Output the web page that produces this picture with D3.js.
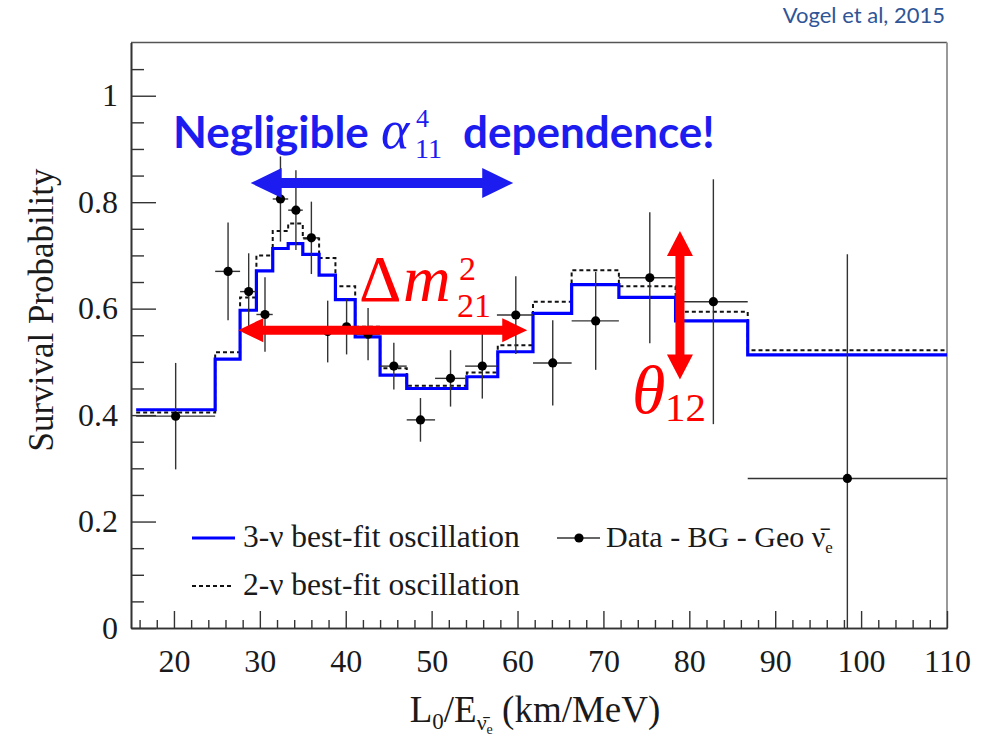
<!DOCTYPE html>
<html>
<head>
<meta charset="utf-8">
<script src="https://cdn.jsdelivr.net/npm/d3@7"></script>
<style>
  html, body { margin: 0; padding: 0; background: #fff; }
  svg { display: block; }
</style>
</head>
<body>
<svg id="chart" width="1000" height="742"></svg>
<script>
// Bin edges of the predicted spectra, L0/E (km/MeV)
const binEdges = [15.6, 24.8, 27.7, 29.6, 31.5, 33.3, 35.0, 36.9, 38.8, 41.1, 44.0,
                  47.1, 54.1, 57.7, 61.8, 66.3, 71.8, 78.4, 86.8, 110];
// 3-flavour best-fit survival probability per bin
const threeNu = [0.410, 0.505, 0.597, 0.671, 0.713, 0.722, 0.702, 0.663, 0.617, 0.547,
                 0.475, 0.450, 0.472, 0.519, 0.591, 0.645, 0.621, 0.577, 0.513];
// 2-flavour best-fit survival probability per bin
const twoNu = [0.405, 0.518, 0.621, 0.700, 0.746, 0.760, 0.732, 0.695, 0.642, 0.566,
               0.488, 0.455, 0.480, 0.531, 0.613, 0.672, 0.642, 0.594, 0.522];

// Data - BG - Geo antineutrinos
const dataX   = [20.2, 26.3, 28.7, 30.6, 32.4, 34.2, 36.0, 37.9, 40.1, 42.6,
                 45.6, 48.7, 52.2, 55.9, 59.8, 64.1, 69.1, 75.4, 82.8, 98.4];
const dataY   = [0.398, 0.670, 0.632, 0.589, 0.806, 0.785, 0.733, 0.557, 0.566, 0.552,
                 0.492, 0.391, 0.469, 0.492, 0.588, 0.498, 0.577, 0.658, 0.613, 0.281];
const dataErr = [0.100, 0.092, 0.072, 0.070, 0.080, 0.075, 0.068, 0.058, 0.052, 0.049,
                 0.044, 0.041, 0.053, 0.061, 0.073, 0.080, 0.092, 0.123, 0.230, 0.421];
const dataLo  = [15.6, 24.8, 27.7, 29.6, 31.5, 33.3, 35.0, 36.9, 38.8, 41.1,
                 44.0, 47.1, 50.4, 53.9, 57.6, 61.8, 66.3, 71.8, 78.4, 86.8];
const dataHi  = [24.8, 27.7, 29.6, 31.5, 33.3, 35.0, 36.9, 38.8, 41.1, 44.0,
                 47.1, 50.4, 53.9, 57.6, 61.8, 66.3, 71.8, 78.4, 86.8, 110];

// Axis ticks
const xTickValues = [20, 30, 40, 50, 60, 70, 80, 90, 100, 110];
const xTickLabels = ["20", "30", "40", "50", "60", "70", "80", "90", "100", "110"];
const yTickValues = [0, 0.2, 0.4, 0.6, 0.8, 1];
const yTickLabels = ["0", "0.2", "0.4", "0.6", "0.8", "1"];

const svg = d3.select("#chart");
const serif = "'Liberation Serif', 'Times New Roman', serif";
const sans = "Lato, 'Open Sans', sans-serif";
const blue = "#1c1cf0";
const red = "#ff0000";

const x = d3.scaleLinear().domain([15, 110]).range([131, 947]);
const y = d3.scaleLinear().domain([0, 1.1]).range([628, 42.5]);

// Minor tick positions
const xMinor = d3.range(16, 110, 2).filter(v => v % 10 !== 0);
const yMinor = d3.range(1, 22).map(i => i * 0.05).filter(v => Math.abs(v * 5 - Math.round(v * 5)) > 1e-6);

// Frame
svg.append("line").attr("x1", 131).attr("x2", 947).attr("y1", 42.5).attr("y2", 42.5)
  .attr("stroke", "#555").attr("stroke-width", 1.5);
svg.append("line").attr("x1", 947).attr("x2", 947).attr("y1", 42.5).attr("y2", 628)
  .attr("stroke", "#999").attr("stroke-width", 2);

// Histograms
const step = d3.line().x(d => x(d[0])).y(d => y(d[1])).curve(d3.curveStepAfter);
function histPoints(vals) {
  const pts = vals.map((v, i) => [binEdges[i], v]);
  pts.push([binEdges[binEdges.length - 1], vals[vals.length - 1]]);
  return pts;
}
svg.append("path").attr("d", step(histPoints(twoNu)))
  .attr("fill", "none").attr("stroke", "#111").attr("stroke-width", 2)
  .attr("stroke-dasharray", "4,3");
svg.append("path").attr("d", step(histPoints(threeNu)))
  .attr("fill", "none").attr("stroke", "#0000ff").attr("stroke-width", 3.2);

// Data points with error bars
const pts = dataX.map((v, i) => ({ x: v, y: dataY[i], e: dataErr[i], lo: dataLo[i], hi: dataHi[i] }));
const eg = svg.append("g").attr("stroke", "#333").attr("stroke-width", 1.4);
eg.selectAll("line.h").data(pts).join("line").attr("class", "h")
  .attr("x1", d => x(d.lo)).attr("x2", d => x(d.hi))
  .attr("y1", d => y(d.y)).attr("y2", d => y(d.y));
eg.selectAll("line.v").data(pts).join("line").attr("class", "v")
  .attr("x1", d => x(d.x)).attr("x2", d => x(d.x))
  .attr("y1", d => y(Math.max(0, d.y - d.e))).attr("y2", d => y(d.y + d.e));
svg.append("g").selectAll("circle").data(pts).join("circle")
  .attr("cx", d => x(d.x)).attr("cy", d => y(d.y)).attr("r", 4.6).attr("fill", "#000");

// Axes
function styleAxis(g) {
  g.selectAll("path.domain").attr("stroke", "#333").attr("stroke-width", 1.6);
  g.selectAll(".tick line").attr("stroke", "#333").attr("stroke-width", 1.4);
  g.selectAll(".tick text").attr("font-family", serif).attr("font-size", 32).attr("fill", "#1a1a1a");
}
svg.append("g").attr("transform", "translate(131,0)")
  .call(d3.axisLeft(y).tickValues(yMinor).tickSize(-13).tickSizeOuter(0).tickFormat(""))
  .call(styleAxis);
svg.append("g").attr("transform", "translate(131,0)")
  .call(d3.axisLeft(y).tickValues(yTickValues).tickSize(-25).tickSizeOuter(0).tickPadding(13)
    .tickFormat((d, i) => yTickLabels[i]))
  .call(styleAxis);
svg.append("g").attr("transform", "translate(0,628)")
  .call(d3.axisBottom(x).tickValues(xMinor).tickSize(-8).tickSizeOuter(0).tickFormat(""))
  .call(styleAxis);
svg.append("g").attr("transform", "translate(0,628)")
  .call(d3.axisBottom(x).tickValues(xTickValues).tickSize(-17).tickSizeOuter(0).tickPadding(21)
    .tickFormat((d, i) => xTickLabels[i]))
  .call(styleAxis);

// Axis titles
svg.append("text").attr("transform", "translate(53,310) rotate(-90)")
  .attr("text-anchor", "middle").attr("font-family", serif).attr("font-size", 35)
  .attr("fill", "#1a1a1a").text("Survival Probability");

const xt = svg.append("text").attr("x", 535).attr("y", 722).attr("text-anchor", "middle")
  .attr("font-family", serif).attr("font-size", 37).attr("fill", "#1a1a1a");
xt.append("tspan").text("L");
xt.append("tspan").attr("font-size", 23).attr("dy", 7).text("0");
xt.append("tspan").attr("dy", -7).text("/E");
xt.append("tspan").attr("font-size", 22).attr("dy", 8).text("\u03BD\u0304");
xt.append("tspan").attr("font-size", 14).attr("dy", 4).text("e");
xt.append("tspan").attr("dy", -12).text(" (km/MeV)");

// Legend
const lg = svg.append("g").attr("font-family", serif).attr("font-size", 31.5).attr("fill", "#1a1a1a");
lg.append("line").attr("x1", 192).attr("x2", 235).attr("y1", 538).attr("y2", 538)
  .attr("stroke", "#0000ff").attr("stroke-width", 3);
lg.append("text").attr("x", 243).attr("y", 547).text("3-\u03BD best-fit oscillation");
lg.append("line").attr("x1", 192).attr("x2", 233).attr("y1", 586).attr("y2", 586)
  .attr("stroke", "#111").attr("stroke-width", 2.2).attr("stroke-dasharray", "4,3");
lg.append("text").attr("x", 243).attr("y", 595).text("2-\u03BD best-fit oscillation");
lg.append("line").attr("x1", 557).attr("x2", 600).attr("y1", 538).attr("y2", 538)
  .attr("stroke", "#333").attr("stroke-width", 1.4);
lg.append("circle").attr("cx", 579).attr("cy", 538).attr("r", 4.6).attr("fill", "#000");
const dl = lg.append("text").attr("x", 606).attr("y", 547).attr("font-size", 30);
dl.append("tspan").text("Data - BG - Geo \u03BD\u0304");
dl.append("tspan").attr("font-size", 17).attr("dy", 6).text("e");

// Double-headed arrows
function doubleArrow(p1, p2, shaft, headLen, headHalf, color) {
  const [x1, y1] = p1, [x2, y2] = p2;
  const L = Math.hypot(x2 - x1, y2 - y1);
  const ux = (x2 - x1) / L, uy = (y2 - y1) / L;
  const nx = -uy, ny = ux;
  const s = shaft / 2;
  const b1 = [x1 + ux * headLen, y1 + uy * headLen];
  const b2 = [x2 - ux * headLen, y2 - uy * headLen];
  const poly = [
    [x1, y1],
    [b1[0] + nx * headHalf, b1[1] + ny * headHalf],
    [b1[0] + nx * s, b1[1] + ny * s],
    [b2[0] + nx * s, b2[1] + ny * s],
    [b2[0] + nx * headHalf, b2[1] + ny * headHalf],
    [x2, y2],
    [b2[0] - nx * headHalf, b2[1] - ny * headHalf],
    [b2[0] - nx * s, b2[1] - ny * s],
    [b1[0] - nx * s, b1[1] - ny * s],
    [b1[0] - nx * headHalf, b1[1] - ny * headHalf]
  ];
  svg.append("path").attr("d", d3.line()(poly) + "Z").attr("fill", color);
}
doubleArrow([x(28.93), y(0.836)], [x(59.5), y(0.836)], 10, 31, 15, blue);
doubleArrow([x(27.49), y(0.5596)], [x(61.13), y(0.5596)], 9, 25, 12, red);
doubleArrow([x(78.91), y(0.746)], [x(78.91), y(0.467)], 9, 25, 13, red);

// Annotation: Negligible alpha dependence
const an = svg.append("g").attr("fill", blue);
an.append("text").attr("x", 173).attr("y", 148).attr("font-family", sans).attr("font-weight", 700)
  .attr("font-size", 44).text("Negligible");
an.append("text").attr("x", 381).attr("y", 148).attr("font-family", serif).attr("font-style", "italic")
  .attr("font-size", 54).text("\u03B1");
an.append("text").attr("x", 416).attr("y", 127).attr("font-family", serif).attr("font-size", 26).text("4");
an.append("text").attr("x", 415).attr("y", 158).attr("font-family", serif).attr("font-size", 28).text("11");
an.append("text").attr("x", 463).attr("y", 148).attr("font-family", sans).attr("font-weight", 700)
  .attr("font-size", 44).text("dependence!");

// Annotation: delta m^2_21
const dm = svg.append("g").attr("fill", red).attr("font-family", serif);
dm.append("text").attr("x", 359).attr("y", 301).attr("font-size", 66).text("\u0394");
dm.append("text").attr("x", 403).attr("y", 301).attr("font-size", 66).attr("font-style", "italic").text("m");
dm.append("text").attr("x", 459).attr("y", 280).attr("font-size", 34).text("2");
dm.append("text").attr("x", 457).attr("y", 317).attr("font-size", 34).text("21");

// Annotation: theta_12
const th = svg.append("g").attr("fill", red).attr("font-family", serif);
th.append("text").attr("x", 632).attr("y", 413).attr("font-size", 68).attr("font-style", "italic").text("\u03B8");
th.append("text").attr("x", 665).attr("y", 421).attr("font-size", 41).text("12");

// Citation
svg.append("text").attr("x", 945).attr("y", 23).attr("text-anchor", "end")
  .attr("font-family", sans).attr("font-size", 22).attr("fill", "#2f5597").text("Vogel et al, 2015");
</script>
</body>
</html>
